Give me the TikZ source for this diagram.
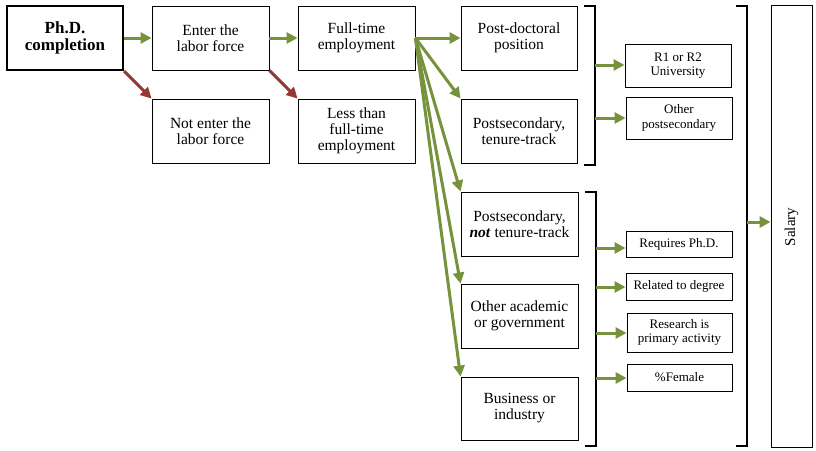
\documentclass[tikz,border=0pt]{standalone}
\usepackage{fontspec}
\setmainfont{Liberation Serif}
\usetikzlibrary{arrows.meta}
\definecolor{arrgreen}{HTML}{76923C}
\definecolor{arrred}{HTML}{953735}
\tikzset{
  box/.style={draw=black, line width=0.9pt, fill=white, inner sep=0pt, align=center,
    font=\fontsize{15.5}{16}\selectfont},
  bigbox/.style={box, minimum width=116pt, minimum height=64pt},
  smallbox/.style={box, minimum width=106pt, font=\fontsize{13}{14.5}\selectfont},
  garr/.style={draw=arrgreen, line width=3pt, -{Triangle[length=11pt,width=11pt]}},
  rarr/.style={draw=arrred, line width=3pt, -{Triangle[length=11pt,width=11pt]}},
  brk/.style={draw=black, line width=1.6pt},
}
\begin{document}
\begin{tikzpicture}[x=1pt,y=-1pt]
\useasboundingbox (0,0) rectangle (816,450);
% column 1-3
\node[bigbox, line width=2.2pt, font=\fontsize{17}{17}\selectfont\bfseries] (phd) at (65,38) {Ph.D.\\completion};
\node[bigbox, minimum width=117pt] (enter) at (210.5,38) {Enter the\\labor force};
\node[bigbox, minimum width=117pt] (notenter) at (210.5,131) {Not enter the\\labor force};
\node[bigbox, minimum width=117pt] (ft) at (356.5,38) {Full-time\\employment};
\node[bigbox, minimum width=117pt] (less) at (356.5,131) {Less than\\full-time\\employment};
% column 4
\node[bigbox] (postdoc) at (519,38) {Post-doctoral\\position};
\node[bigbox] (ptt) at (519,131) {Postsecondary,\\tenure-track};
\node[bigbox, minimum width=117pt] (pntt) at (519.5,224) {Postsecondary,\\\textbf{\textit{not}} tenure-track};
\node[bigbox, minimum width=117pt] (oth) at (519.5,316) {Other academic\\or government};
\node[bigbox, minimum width=117pt, minimum height=63pt] (bus) at (519.5,408.5) {Business or\\industry};
% small boxes
\node[smallbox, minimum height=43pt] (r1) at (678,65.5) {R1 or R2\\University};
\node[smallbox, minimum height=42pt] (othps) at (679,118) {Other\\postsecondary};
\node[smallbox, minimum height=26pt] (req) at (679,244) {Requires Ph.D.};
\node[smallbox, minimum height=27pt] (rel) at (679,286.5) {Related to degree};
\node[smallbox, minimum width=105pt, minimum height=39pt] (res) at (679.5,332.5) {Research is\\primary activity};
\node[smallbox, minimum width=105pt, minimum height=27pt] (fem) at (679.5,377.5) {\%Female};
% salary
\node[box, minimum width=41pt, minimum height=442pt] (sal) at (791.5,226) {};
\node[rotate=90, font=\fontsize{15}{16}\selectfont] (saltext) at (791.5,227) {Salary};
% brackets
\draw[brk] (584,6) -- (595,6) -- (595,165) -- (584,165);
\draw[brk] (585,192) -- (596,192) -- (596,446) -- (585,446);
\draw[brk] (736,6) -- (747,6) -- (747,446) -- (736,446);
\coordinate (b1a) at (595,65);
\coordinate (b1b) at (595,118);
\coordinate (b2a) at (596,248);
\coordinate (b2b) at (596,287);
\coordinate (b2c) at (596,333);
\coordinate (b2d) at (596,378);
\coordinate (b3) at (747,222);
% arrows
\draw[garr] (phd.east) -- (enter.west);
\draw[garr] (enter.east) -- (ft.west);
\draw[rarr] (phd.south east) -- (notenter.north west);
\draw[rarr] (enter.south east) -- (less.north west);
\draw[garr] (ft.east) -- (postdoc.west);
\draw[garr] (ft.east) -- (ptt.north west);
\draw[garr] (ft.east) -- (pntt.north west);
\draw[garr] (ft.east) -- (oth.north west);
\draw[garr] (ft.east) -- (bus.north west);
\draw[garr] (b1a) -- (r1.west |- b1a);
\draw[garr] (b1b) -- (othps.west |- b1b);
\draw[garr] (b2a) -- (req.west |- b2a);
\draw[garr] (b2b) -- (rel.west |- b2b);
\draw[garr] (b2c) -- (res.west |- b2c);
\draw[garr] (b2d) -- (fem.west |- b2d);
\draw[garr] (b3) -- (sal.west |- b3);
\end{tikzpicture}
\end{document}
